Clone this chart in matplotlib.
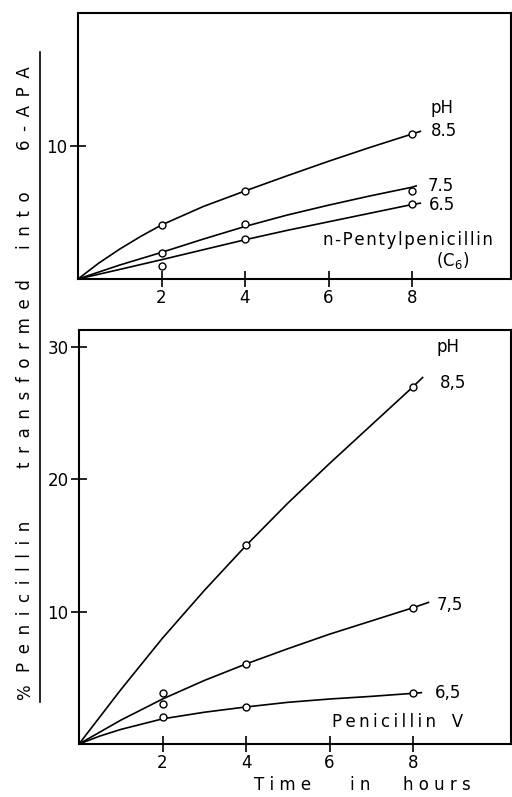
import matplotlib
matplotlib.use('Agg')
import matplotlib.pyplot as plt
from matplotlib.lines import Line2D

plt.rcParams['font.family'] = ['DejaVu Sans']

# top panel: n-Pentylpenicillin (C6), curves
top_85_x = [0, 0.5, 1, 1.5, 2, 3, 4, 5, 6, 7, 8, 8.2]
top_85_curve = [0, 1.2, 2.25, 3.2, 4.06, 5.45, 6.62, 7.75, 8.85, 9.9, 10.9, 11.1]
top_75_x = [0, 1, 2, 3, 4, 5, 6, 7, 8, 8.1]
top_75_curve = [0, 1.05, 2.0, 3.0, 3.95, 4.8, 5.55, 6.25, 6.9, 7.0]
top_65_x = [0, 1, 2, 3, 4, 5, 6, 7, 8, 8.2]
top_65_curve = [0, 0.72, 1.45, 2.2, 2.95, 3.65, 4.3, 4.95, 5.6, 5.7]

pt_x = [2, 4, 8]
top_85_pts = [4.06, 6.62, 10.88]
top_75_pts = [1.93, 4.11, 6.62]
top_65_pts = [0.98, 2.98, 5.62]

# bottom panel: Penicillin V
bot_85_x = [0, 1, 2, 3, 4, 5, 6, 7, 8, 8.23]
bot_85_curve = [0, 4.1, 8.0, 11.6, 15.0, 18.2, 21.2, 24.1, 27.0, 27.7]
bot_75_x = [0, 1, 2, 3, 4, 5, 6, 7, 8, 8.37]
bot_75_curve = [0, 1.8, 3.4, 4.8, 6.05, 7.2, 8.3, 9.3, 10.3, 10.7]
bot_65_x = [0, 0.5, 1, 2, 3, 4, 5, 6, 7, 8, 8.2]
bot_65_curve = [0, 0.6, 1.1, 1.9, 2.4, 2.8, 3.15, 3.4, 3.6, 3.83, 3.88]

bot_85_pts = [3.0, 15.04, 27.0]
bot_75_pts = [3.83, 6.05, 10.3]
bot_65_pts = [2.06, 2.8, 3.83]

x_ticks = [2, 4, 6, 8]

fig = plt.figure(figsize=(5.12, 7.97), dpi=100)
ax1 = fig.add_axes([78/512, 1-279/797, 433/512, 266/797])
ax2 = fig.add_axes([79/512, 1-744/797, 432/512, 414/797])

line_kw = dict(color='black', lw=1.2)
mark_kw = dict(ls='none', marker='o', ms=5, mfc='white', mec='black', mew=1.0, zorder=3)

ax1.plot(top_85_x, top_85_curve, **line_kw)
ax1.plot(top_75_x, top_75_curve, **line_kw)
ax1.plot(top_65_x, top_65_curve, **line_kw)
ax1.plot(pt_x, top_85_pts, **mark_kw)
ax1.plot(pt_x, top_75_pts, **mark_kw)
ax1.plot(pt_x, top_65_pts, **mark_kw)

ax2.plot(bot_85_x, bot_85_curve, **line_kw)
ax2.plot(bot_75_x, bot_75_curve, **line_kw)
ax2.plot(bot_65_x, bot_65_curve, **line_kw)
ax2.plot(pt_x, bot_85_pts, **mark_kw)
ax2.plot(pt_x, bot_75_pts, **mark_kw)
ax2.plot(pt_x, bot_65_pts, **mark_kw)

ax1.set_xlim(0, 433/41.75)
ax1.set_ylim(0, 20)
ax1.set_yticks([10])
ax2.set_xlim(0, 432/41.75)
ax2.set_ylim(0, 414/13.23)
ax2.set_yticks([10, 20, 30])

for ax in (ax1, ax2):
    ax.set_xticks(x_ticks)
    ax.tick_params(direction='inout', length=11, width=1.2, labelsize=12, pad=2)
    for s in ax.spines.values():
        s.set_linewidth(1.5)

fs = 12
hs = '\u200a'
ts = '\u2009'
ax1.text(8.73, 12.86, 'pH', fontsize=fs, ha='center', va='center')
ax1.text(8.76, 11.1, '8.5', fontsize=fs, ha='center', va='center')
ax1.text(8.69, 7.0, '7.5', fontsize=fs, ha='center', va='center')
ax1.text(8.71, 5.56, '6.5', fontsize=fs, ha='center', va='center')
ax1.text(7.9, 2.93, hs.join('n-Pentylpenicillin'), fontsize=fs, ha='center', va='center')
ax1.text(8.97, 1.38, '(C$_6$)', fontsize=fs, ha='center', va='center')

ax2.text(8.84, 30.0, 'pH', fontsize=fs, ha='center', va='center')
ax2.text(8.95, 27.3, '8,5', fontsize=fs, ha='center', va='center')
ax2.text(8.89, 10.5, '7,5', fontsize=fs, ha='center', va='center')
ax2.text(8.84, 3.85, '6,5', fontsize=fs, ha='center', va='center')
ax2.text(7.63, 1.68, ts.join('Penicillin') + '   V', fontsize=fs, ha='center', va='center')

# x label, word by word
for word, xc in [('Time', 283), ('in', 360), ('hours', 437)]:
    fig.text(xc/512, 1-785/797, ' '.join(word), fontsize=fs, ha='center', va='center')

# y label, word by word along the left edge
gap = ' ' + ts
for word, yc in [('%', 692), ('Penicillin', 596), ('transformed', 374),
                 ('into', 220), ('6-APA', 108)]:
    fig.text(25/512, 1-yc/797, gap.join(word), fontsize=fs, rotation=90,
             ha='center', va='center')
fig.add_artist(Line2D([40/512, 40/512], [1-702/797, 1-52/797], color='black', lw=1.2))

fig.savefig('out.png', dpi=100)
